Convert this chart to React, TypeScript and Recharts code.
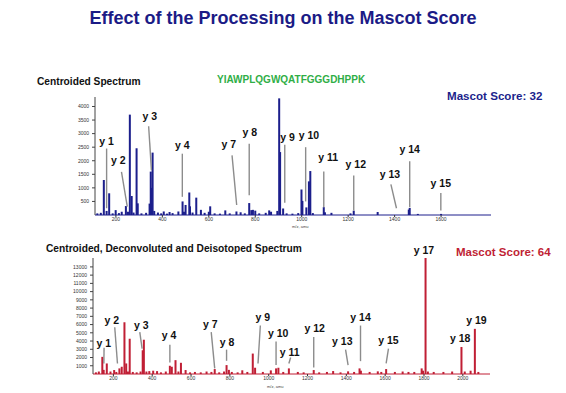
import React from 'react';
import { BarChart, Bar, XAxis, YAxis, ReferenceLine, ReferenceDot } from 'recharts';

// ---- Centroided spectrum (top) ----
const topMz = [120, 135, 148, 160, 171, 186, 199, 213, 225, 243, 252, 260, 268, 276, 289, 294, 310, 330, 345, 350,
  353, 358, 365, 381, 395, 406, 420, 431, 444, 469, 487, 493, 500, 516, 519, 530, 546, 566, 582, 600,
  606, 625, 648, 671, 690, 719, 737, 755, 774, 783, 790, 800, 817, 845, 860, 868, 895, 903, 907, 920,
  935, 960, 985, 999, 1003, 1020, 1031, 1037, 1048, 1095, 1100, 1128, 1210, 1224, 1327, 1461, 1465, 1500, 1600];
const topIntensity = [60, 80, 1290, 150, 800, 60, 180, 70, 120, 330, 120, 3700, 700, 90, 2460, 430, 60, 80, 420, 1600,
  1000, 2300, 150, 90, 60, 130, 50, 110, 70, 130, 500, 120, 370, 830, 320, 90, 640, 190, 80, 120,
  320, 60, 50, 170, 60, 130, 100, 60, 440, 180, 190, 160, 60, 80, 170, 120, 150, 4300, 2320, 240,
  60, 50, 70, 940, 520, 280, 1240, 1620, 70, 290, 100, 80, 60, 160, 110, 200, 260, 40, 40];

const topNames = ['y 1', 'y 2', 'y 3', 'y 4', 'y 7', 'y 8', 'y 9', 'y 10', 'y 11', 'y 12', 'y 13', 'y 14', 'y 15'];
const topLabelMz = [160, 210, 346, 486, 686, 777, 939, 1031, 1114, 1233, 1380, 1465, 1599];
const topLabelInt = [2717, 2020, 3635, 2570, 2595, 3060, 2869, 2932, 2132, 1864, 1495, 2405, 1153];
const topLineTopMz = [160, 224, 341, 486, 700, 774, 927, 1017, 1095, 1224, 1384, 1465, 1599];
const topLineTopInt = [2450, 1590, 3270, 2260, 2200, 2630, 2590, 2500, 1600, 1460, 1130, 1985, 810];
const topLineEndMz = [160, 249, 353, 486, 720, 774, 927, 1017, 1095, 1224, 1408, 1465, 1599];
const topLineEndInt = [250, 310, 1650, 670, 370, 730, 450, 500, 290, 170, 250, 290, 170];

const topXTicks = [200, 400, 600, 800, 1000, 1200, 1400, 1600];
const topYTicks = [500, 1000, 1500, 2000, 2500, 3000, 3500, 4000];

// ---- Centroided, deconvoluted and deisotoped spectrum (bottom) ----
const botMz = [110, 125, 143, 150, 166, 185, 204, 215, 231, 243, 257, 266, 275, 284, 300, 320, 340, 351, 357, 370,
  385, 405, 425, 445, 470, 491, 501, 520, 535, 548, 572, 595, 620, 650, 680, 705, 722, 745, 770, 783,
  795, 810, 840, 864, 890, 918, 930, 970, 1011, 1038, 1050, 1075, 1104, 1150, 1180, 1232, 1260, 1300, 1332, 1370,
  1409, 1440, 1468, 1475, 1520, 1562, 1580, 1605, 1650, 1690, 1720, 1750, 1788, 1795, 1808, 1820, 1850, 1900, 1945, 1993,
  2010, 2040, 2062, 2080];
const botIntensity = [200, 300, 2080, 500, 1280, 300, 480, 250, 680, 880, 6280, 1280, 300, 4280, 250, 200, 300, 2880, 4160, 300,
  350, 400, 350, 200, 300, 1000, 880, 1680, 300, 1360, 480, 200, 250, 200, 300, 250, 600, 200, 300, 1080,
  500, 250, 200, 450, 250, 2480, 760, 250, 440, 680, 760, 250, 680, 250, 200, 480, 200, 250, 360, 200,
  320, 250, 680, 400, 250, 320, 250, 600, 250, 300, 250, 250, 680, 400, 14080, 300, 250, 250, 300, 3280,
  300, 400, 5480, 250];

const botNames = ['y 1', 'y 2', 'y 3', 'y 4', 'y 7', 'y 8', 'y 9', 'y 10', 'y 11', 'y 12', 'y 13', 'y 14', 'y 15', 'y 17', 'y 18', 'y 19'];
const botLabelMz = [151, 192, 344, 487, 699, 786, 970, 1049, 1108, 1237, 1379, 1473, 1617, 1800, 1986, 2070];
const botLabelInt = [3760, 6560, 5960, 4680, 6000, 3880, 6880, 5000, 2680, 5560, 3960, 6880, 4080, 14960, 4280, 6480];
// leader lines (y 17, y 18, y 19 have none)
const botLineTopMz = [152, 207, 336, 491, 704, 783, 957, 1038, 1113, 1232, 1396, 1473, 1617];
const botLineTopInt = [3200, 5680, 5080, 3560, 5080, 2960, 5880, 3960, 2000, 4480, 2960, 5880, 3080];
const botLineEndMz = [151, 221, 348, 491, 722, 783, 945, 1038, 1104, 1232, 1409, 1473, 1605];
const botLineEndInt = [1280, 1280, 3080, 1400, 680, 1600, 1280, 1080, 1280, 800, 1080, 1560, 1280];

const botXTicks = [200, 400, 600, 800, 1000, 1200, 1400, 1600, 1800, 2000];
const botYTicks = [1000, 2000, 3000, 4000, 5000, 6000, 7000, 8000, 9000, 10000, 11000, 12000, 13000];

const BLUE = '#1c1f8c';
const RED = '#c01f35';
const LEADER = '#8c8c8c';
const FONT = '"Liberation Sans", Arial, Helvetica, sans-serif';

const topData = topMz.map((mz, i) => ({ mz, intensity: topIntensity[i] }));
const botData = botMz.map((mz, i) => ({ mz, intensity: botIntensity[i] }));

const tickStyle = { fontSize: 5, fill: '#333' };
const labelStyle = { fill: '#111', fontSize: 10.5, fontWeight: 700 };

// stick peak: fixed 2px width centred on the bar's own position
const Stick = (props: any) => {
  const { x, y, width, height, fill } = props;
  if (height == null || height <= 0) return null;
  const cx = x + width / 2;
  return <rect x={cx - 1} y={y} width={2} height={height} fill={fill} />;
};

const Txt = ({ x, y, size, color, children, align = 'left' }: any) => (
  <div
    style={{
      position: 'absolute',
      left: align === 'center' ? x - 300 : x,
      width: align === 'center' ? 600 : undefined,
      textAlign: align,
      top: y - size * 0.5,
      fontSize: size,
      lineHeight: `${size}px`,
      fontWeight: 700,
      color,
      whiteSpace: 'nowrap',
    }}
  >
    {children}
  </div>
);

const App = () => {
  return (
    <div style={{ position: 'absolute', left: 0, top: 0, width: 566, height: 393, background: '#fff', fontFamily: FONT, overflow: 'hidden' }}>
      <div style={{ position: 'absolute', left: 0, top: 0 }}>
        <BarChart width={566} height={240} data={topData} margin={{ top: 97, right: 75, bottom: 13, left: 71 }}>
          <XAxis
            type="number"
            dataKey="mz"
            domain={[110, 1815]}
            ticks={topXTicks}
            height={12}
            tickSize={2}
            tickMargin={0}
            tick={tickStyle}
            stroke="#333"
            axisLine={{ stroke: BLUE }}
          />
          <YAxis
            domain={[0, 4350]}
            ticks={topYTicks}
            interval={0}
            width={24}
            tickSize={3}
            tickMargin={3}
            tick={tickStyle}
            stroke="#444"
          />
          <Bar dataKey="intensity" fill={BLUE} shape={<Stick />} isAnimationActive={false} />
          {topNames.map((n, i) => (
            <ReferenceLine
              key={'tl' + i}
              segment={[{ x: topLineTopMz[i], y: topLineTopInt[i] }, { x: topLineEndMz[i], y: topLineEndInt[i] }]}
              stroke={LEADER}
              strokeWidth={1.4}
            />
          ))}
          {topNames.map((n, i) => (
            <ReferenceDot
              key={'td' + i}
              x={topLabelMz[i]}
              y={topLabelInt[i]}
              r={0}
              fill="none"
              stroke="none"
              ifOverflow="visible"
              label={{ value: n, position: 'center', ...labelStyle }}
            />
          ))}
        </BarChart>
      </div>

      <div style={{ position: 'absolute', left: 0, top: 240 }}>
        <BarChart width={566} height={153} data={botData} margin={{ top: 18, right: 76, bottom: 7, left: 69 }}>
          <XAxis
            type="number"
            dataKey="mz"
            domain={[95, 2140]}
            ticks={botXTicks}
            height={12}
            tickSize={2}
            tickMargin={0}
            tick={tickStyle}
            stroke="#333"
            axisLine={{ stroke: RED }}
          />
          <YAxis
            domain={[0, 14000]}
            ticks={botYTicks}
            interval={0}
            width={24}
            tickSize={3}
            tickMargin={3}
            tick={tickStyle}
            stroke="#444"
          />
          <Bar dataKey="intensity" fill={RED} shape={<Stick />} isAnimationActive={false} />
          {botLineTopMz.map((m, i) => (
            <ReferenceLine
              key={'bl' + i}
              segment={[{ x: m, y: botLineTopInt[i] }, { x: botLineEndMz[i], y: botLineEndInt[i] }]}
              stroke={LEADER}
              strokeWidth={1.4}
            />
          ))}
          {botNames.map((n, i) => (
            <ReferenceDot
              key={'bd' + i}
              x={botLabelMz[i]}
              y={botLabelInt[i]}
              r={0}
              fill="none"
              stroke="none"
              ifOverflow="visible"
              label={{ value: n, position: 'center', ...labelStyle }}
            />
          ))}
        </BarChart>
      </div>

      <Txt x={283} y={18} size={18} color="#1b1b86" align="center">Effect of the Processing on the Mascot Score</Txt>
      <Txt x={37} y={82} size={10.2} color="#111">Centroided Spectrum</Txt>
      <Txt x={217} y={80} size={10} color="#2fae46">YIAWPLQGWQATFGGGDHPPK</Txt>
      <Txt x={447} y={96} size={11.6} color={BLUE}>Mascot Score: 32</Txt>
      <Txt x={46} y={249} size={10.2} color="#111">Centroided, Deconvoluted and Deisotoped Spectrum</Txt>
      <Txt x={456} y={253} size={11.5} color={RED}>Mascot Score: 64</Txt>
      <div style={{ position: 'absolute', left: 292, top: 224, fontSize: 4, color: '#444' }}>m/z, amu</div>
      <div style={{ position: 'absolute', left: 267, top: 384, fontSize: 4, color: '#444' }}>m/z, amu</div>
    </div>
  );
};

export default App;
